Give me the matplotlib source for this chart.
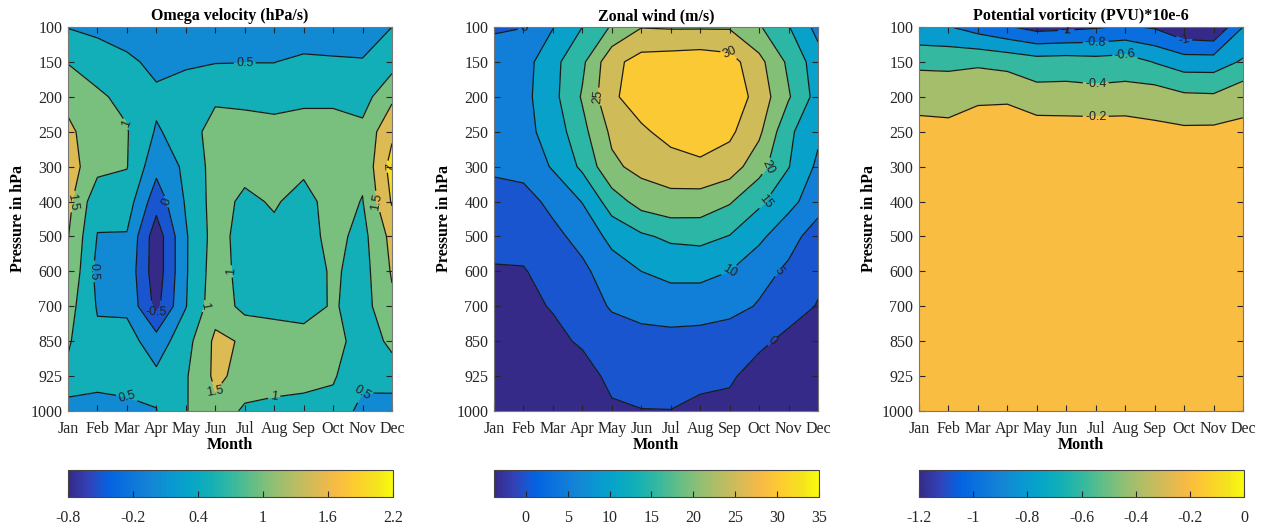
import numpy as np
import matplotlib
matplotlib.use('Agg')
import matplotlib.pyplot as plt
from matplotlib.colors import LinearSegmentedColormap, Normalize
import matplotlib.cm as cm

plt.rcParams['font.family'] = ['Liberation Serif', 'DejaVu Serif']

months = ['Jan', 'Feb', 'Mar', 'Apr', 'May', 'Jun', 'Jul', 'Aug', 'Sep', 'Oct', 'Nov', 'Dec']
pressure = ['100', '150', '200', '250', '300', '400', '500', '600', '700', '850', '925', '1000']

# rows = pressure levels (100 -> 1000), columns = months
omega = [
    [0.48, 0.35, 0.2, 0.1, 0.1, 0.1, 0.1, 0.1, 0.1, 0.1, 0.1, 0.5],
    [0.98, 0.83, 0.62, 0.35, 0.45, 0.48, 0.49, 0.49, 0.62, 0.58, 0.55, 0.8],
    [1.3, 1.06, 0.9, 0.61, 0.67, 0.9, 0.88, 0.85, 0.9, 0.9, 0.8, 1.4],
    [1.65, 1.1, 1.03, 0.45, 0.7, 1.25, 1.2, 1.15, 1.2, 1.2, 1.13, 1.9],
    [1.75, 1.15, 1.02, 0.15, 0.6, 1.2, 1.15, 1.15, 1.1, 1.2, 1.1, 2.2],
    [1.65, 0.66, 0.75, -0.3, 0.55, 1.2, 0.9, 1.05, 0.83, 1.2, 0.98, 2.05],
    [1.52, 0.48, 0.46, -0.8, 0.45, 1.2, 0.8, 0.89, 0.8, 1.15, 0.85, 1.65],
    [1.45, 0.35, 0.35, -0.8, 0.45, 1.25, 0.8, 0.8, 0.7, 1.08, 0.8, 1.55],
    [1.2, 0.46, 0.4, -0.65, 0.48, 1.3, 0.85, 0.85, 0.8, 1.05, 0.8, 1.4],
    [1.05, 0.6, 0.7, 0.23, 0.81, 1.6, 1.45, 1.25, 1.2, 1.2, 0.75, 1.1],
    [0.91, 0.7, 0.65, 0.6, 0.95, 1.6, 1.35, 1.15, 1.2, 1.05, 0.65, 0.8],
    [0.23, 0.27, 0.4, 0.49, 0.97, 1.38, 0.9, 0.9, 0.79, 0.85, 0.34, 0.19],
]

wind = [
    [4.7, 4.9, 9.8, 15.0, 20.5, 24.8, 24.5, 24.5, 24.5, 20.5, 15.3, 8.3],
    [6.2, 8.0, 13.5, 19.0, 28.5, 32.0, 32.5, 33.0, 32.0, 26.5, 19.0, 12.3],
    [7.0, 8.5, 13.5, 20.5, 29.0, 33.0, 34.0, 35.0, 33.5, 28.0, 20.5, 13.0],
    [7.0, 8.5, 12.0, 18.5, 26.0, 29.0, 32.0, 34.0, 31.0, 26.0, 16.0, 11.0],
    [5.5, 6.5, 10.5, 16.0, 24.0, 26.5, 27.5, 28.5, 27.5, 22.0, 15.2, 9.0],
    [3.8, 3.3, 6.2, 10.2, 17.5, 22.0, 23.5, 23.0, 20.5, 16.0, 11.5, 7.2],
    [1.5, 2.2, 3.8, 6.5, 11.5, 14.2, 16.0, 16.5, 14.8, 11.0, 7.0, 2.5],
    [-0.4, -0.4, 2.5, 4.0, 7.5, 10.0, 11.0, 11.0, 10.0, 7.0, 4.0, 1.0],
    [-1.5, -1.4, 0.4, 2.5, 5.5, 7.0, 8.0, 8.0, 7.0, 4.5, 2.0, -0.25],
    [-2.5, -2.5, -1.5, 0.8, 2.5, 3.0, 3.0, 2.5, 1.5, 1.0, -1.2, -2.0],
    [-3.2, -3.0, -2.5, -2.5, 1.5, 2.0, 2.2, 1.2, 0.7, -2.0, -2.5, -3.0],
    [-3.8, -3.5, -3.2, -3.0, -0.9, -0.15, -0.1, -1.1, -1.4, -3.0, -3.5, -3.5],
]

pv = [
    [-0.76, -0.79, -0.89, -0.98, -1.07, -1.05, -1.02, -0.98, -1.02, -1.17, -1.2, -0.8],
    [-0.45, -0.45, -0.43, -0.46, -0.51, -0.5, -0.52, -0.5, -0.61, -0.7, -0.7, -0.575],
    [-0.24, -0.265, -0.25, -0.24, -0.32, -0.32, -0.33, -0.32, -0.29, -0.36, -0.37, -0.257],
    [-0.165, -0.157, -0.05, -0.05, -0.094, -0.1, -0.1, -0.1, -0.156, -0.165, -0.16, -0.162],
    [-0.08, -0.07, -0.04, -0.04, -0.06, -0.06, -0.06, -0.06, -0.08, -0.09, -0.09, -0.08],
    [-0.04, -0.04, -0.03, -0.03, -0.04, -0.04, -0.04, -0.04, -0.04, -0.05, -0.05, -0.04],
    [-0.03, -0.03, -0.03, -0.03, -0.03, -0.03, -0.03, -0.03, -0.03, -0.03, -0.03, -0.03],
    [-0.02, -0.02, -0.02, -0.02, -0.02, -0.02, -0.02, -0.02, -0.02, -0.02, -0.02, -0.02],
    [-0.02, -0.02, -0.02, -0.02, -0.02, -0.02, -0.02, -0.02, -0.02, -0.02, -0.02, -0.02],
    [-0.01, -0.01, -0.01, -0.01, -0.01, -0.01, -0.01, -0.01, -0.01, -0.01, -0.01, -0.01],
    [-0.01, -0.01, -0.01, -0.01, -0.01, -0.01, -0.01, -0.01, -0.01, -0.01, -0.01, -0.01],
    [0.0, 0.0, 0.0, 0.0, 0.0, 0.0, 0.0, 0.0, 0.0, 0.0, 0.0, 0.0],
]

# parula-like colormap (matlab default)
parula_pts = [
    (0.2081, 0.1663, 0.5292), (0.1959, 0.2645, 0.7279), (0.0117, 0.3875, 0.8820),
    (0.0498, 0.4586, 0.8641), (0.0793, 0.5200, 0.8312), (0.0343, 0.5966, 0.8199),
    (0.0228, 0.6535, 0.7768), (0.0843, 0.6928, 0.7062), (0.2178, 0.7250, 0.6193),
    (0.3953, 0.7459, 0.5244), (0.5709, 0.7485, 0.4494), (0.7184, 0.7411, 0.3905),
    (0.8507, 0.7299, 0.3360), (0.9739, 0.7314, 0.2666), (0.9880, 0.8066, 0.1794),
    (0.9589, 0.8949, 0.1132), (0.9763, 0.9831, 0.0538),
]
pos = [i * 4 / 63 for i in range(16)] + [1.0]
parula = LinearSegmentedColormap.from_list('parula', list(zip(pos, parula_pts)))

panels = [
    (omega, [-0.5, 0, 0.5, 1, 1.5, 2], 'Omega velocity (hPa/s)',
     [-0.8, -0.2, 0.4, 1, 1.6, 2.2], 68),
    (wind, [0, 5, 10, 15, 20, 25, 30], 'Zonal wind (m/s)',
     [0, 5, 10, 15, 20, 25, 30, 35], 494),
    (pv, [-1, -0.8, -0.6, -0.4, -0.2], 'Potential vorticity (PVU)*10e-6',
     [-1.2, -1, -0.8, -0.6, -0.4, -0.2, 0], 919),
]

W, H = 1274, 527
fig = plt.figure(figsize=(W / 100, H / 100), dpi=100)
xx, yy = np.meshgrid(np.arange(12), np.arange(12))
fs = 11.5

for data, levels, title, cticks, left in panels:
    Z = np.array(data)
    zmin, zmax = Z.min(), Z.max()
    norm = Normalize(zmin, zmax)
    ax = fig.add_axes([left / W, (H - 411) / H, 324 / W, 384 / H])
    bounds = [zmin - 1] + levels + [zmax + 1]
    fills = [parula(norm(v)) for v in [zmin] + levels]
    ax.contourf(xx, yy, Z, levels=bounds, colors=fills)
    cs = ax.contour(xx, yy, Z, levels=levels, colors='#1a1a1a', linewidths=0.9,
                    linestyles='solid')
    lbls = ax.clabel(cs, fmt='%g', fontsize=9, inline=True, inline_spacing=3)
    for t in lbls:
        t.set_fontfamily('Liberation Sans')
        t.set_color('#222222')
    ax.set_xlim(0, 11)
    ax.set_ylim(11, 0)
    ax.set_xticks(range(12))
    ax.set_xticklabels(months, fontsize=fs)
    ax.set_yticks(range(12))
    ax.set_yticklabels(pressure, fontsize=fs)
    ax.tick_params(direction='in', length=4, top=True, right=True, colors='#262626')
    ax.tick_params(axis='x', pad=7)
    ax.tick_params(axis='y', pad=4)
    for s in ax.spines.values():
        s.set_color('#777777')
        s.set_linewidth(0.8)
    ax.set_title(title, fontsize=fs, fontweight='bold', pad=5)
    ax.set_xlabel('Month', fontsize=fs, fontweight='bold', labelpad=0)
    ax.set_ylabel('Pressure in hPa', fontsize=fs, fontweight='bold', labelpad=3)

    cax = fig.add_axes([left / W, (H - 497) / H, 325 / W, 27 / H])
    sm = cm.ScalarMappable(norm=norm, cmap=parula)
    cb = fig.colorbar(sm, cax=cax, orientation='horizontal', ticks=cticks)
    cb.ax.set_xticklabels(['%g' % v for v in cticks], fontsize=fs)
    cb.ax.tick_params(direction='in', length=4, colors='#262626', pad=9)
    cb.outline.set_edgecolor('#444444')
    cb.outline.set_linewidth(0.8)

fig.savefig('out.png', dpi=100)
